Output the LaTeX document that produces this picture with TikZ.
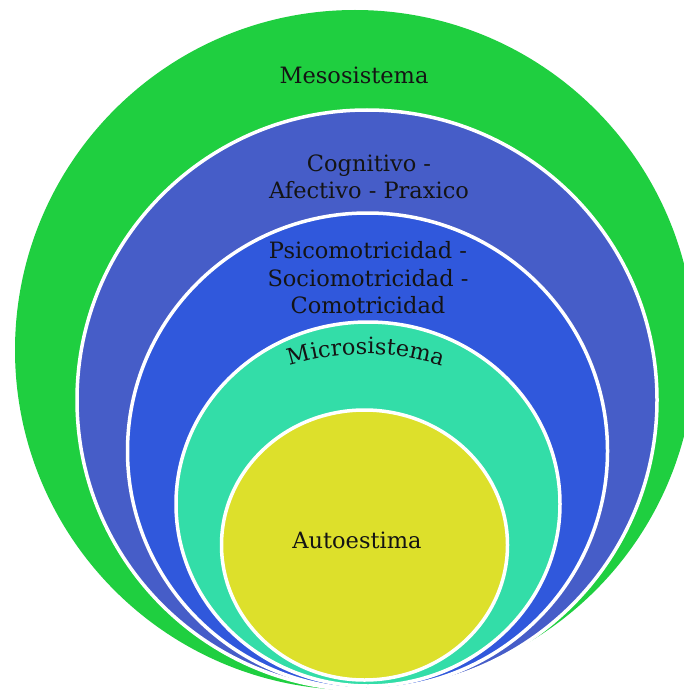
\documentclass[tikz,border=0pt]{standalone}
\usepackage{fontspec}
\newfontfamily\dvs{DejaVu Serif}
\usetikzlibrary{decorations.text}
\definecolor{cgreen}{HTML}{1FCF40}
\definecolor{cpurple}{HTML}{465DC8}
\definecolor{cblue}{HTML}{3058DC}
\definecolor{cteal}{HTML}{33DDA8}
\definecolor{cyellow}{HTML}{DDE02B}
\definecolor{ctext}{HTML}{141414}
\tikzset{
  ring/.style={draw=white, line width=3.5pt},
  lbl/.style={font=\dvs\fontsize{22.5}{27}\selectfont, text=ctext, inner sep=0pt, anchor=base}
}
\begin{document}
\begin{tikzpicture}[x=1pt,y=-1pt]
\useasboundingbox (0,0) rectangle (684,690);
\clip (0,0) rectangle (684,690);
\fill[white] (0,0) rectangle (684,690);
% outer green
\fill[cgreen] (355,350) circle[radius=340];
% purple
\filldraw[fill=cpurple, ring] (367,400) circle[radius=290];
% blue
\filldraw[fill=cblue, ring] (367.5,451) ellipse[x radius=240, y radius=238];
% teal
\filldraw[fill=cteal, ring] (368,504) ellipse[x radius=192, y radius=182];
% yellow
\filldraw[fill=cyellow, ring] (364.5,545) ellipse[x radius=143, y radius=135];

\node[lbl] (meso) at (354,84) {Mesosistema};
\node[lbl] (cog1) at (369,171) {Cognitivo -};
\node[lbl] (cog2) at (369,198) {Afectivo - Praxico};
\node[lbl] (psi1) at (368,258) {Psicomotricidad -};
\node[lbl] (psi2) at (368,286) {Sociomotricidad -};
\node[lbl] (psi3) at (368,313) {Comotricidad};
\node[lbl] (auto) at (357,548) {Autoestima};

\coordinate (mcen) at (366,604);
\path[decorate, decoration={text along path, text align=center,
   text format delimiters={|}{|},
   text={|\dvs\fontsize{22.5}{27}\selectfont\color{ctext}|Microsistema}}]
   (mcen) ++(252.5:250) arc[start angle=252.5, end angle=287.5, radius=250];
\end{tikzpicture}
\end{document}
